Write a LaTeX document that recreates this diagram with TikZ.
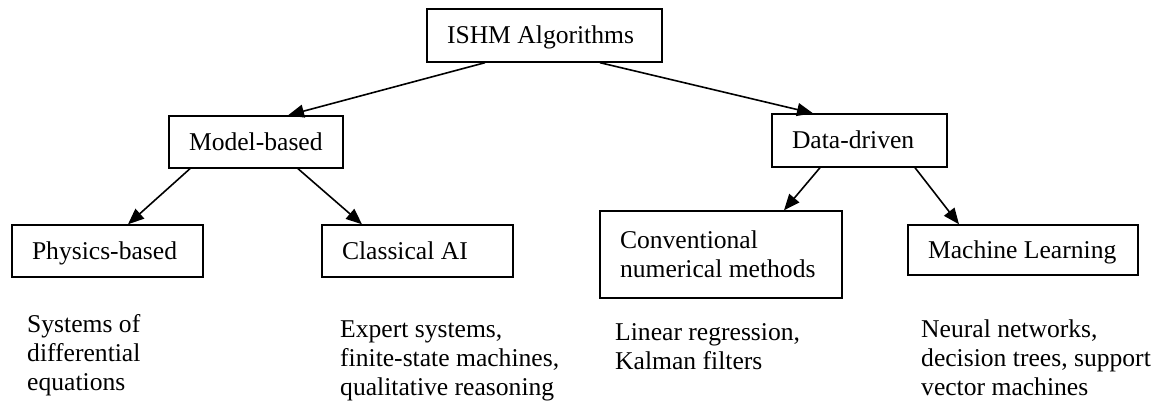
\documentclass[tikz,border=0pt]{standalone}
\usepackage{fontspec}
\setmainfont{Liberation Serif}
\usetikzlibrary{arrows.meta}
\begin{document}
\begin{tikzpicture}[x=1pt,y=-1pt,
  txt/.style={font=\fontsize{25.6}{29}\selectfont},
  box/.style={txt, draw, line width=1.4pt, align=flush left, inner xsep=20pt, inner ysep=0pt},
  one/.style={text height=17pt, text depth=0pt},
  note/.style={txt, anchor=base west, inner sep=0pt, align=left},
  arr/.style={line width=1.6pt, -{Triangle[length=16pt,width=13pt]}}]
\useasboundingbox (0,0) rectangle (1161,403);
\node[box,one,text width=195pt,minimum height=53pt] (ishm) at (544.5,35.5) {ISHM Algorithms};
\node[box,one,text width=134pt,minimum height=52pt] (model) at (256,142) {Model-based};
\node[box,one,text width=135pt,minimum height=53pt] (data) at (859.5,140.5) {Data-driven};
\node[box,one,text width=151pt,minimum height=52pt] (physics) at (107.5,251) {Physics-based};
\node[box,one,text width=151pt,minimum height=52pt] (classical) at (417.5,251) {Classical AI};
\node[box,text width=202pt,minimum height=87pt] (conv) at (721,254.5) {Conventional\\numerical methods};
\node[box,one,text width=190pt,minimum height=50pt] (ml) at (1023,250) {Machine Learning};
% anchor base is the baseline of the last line
\node[note] (sys) at (27,390) {Systems of\\differential\\equations};
\node[note] (expert) at (340,395) {Expert systems,\\finite-state machines,\\qualitative reasoning};
\node[note] (linear) at (615,369) {Linear regression,\\Kalman filters};
\node[note] (neural) at (921,395) {Neural networks,\\decision trees, support\\vector machines};
\draw[arr] ([xshift=-59.5pt]ishm.south) -- ([xshift=32pt]model.north);
\draw[arr] ([xshift=55.5pt]ishm.south) -- ([xshift=-46.5pt]data.north);
\draw[arr] ([xshift=-66pt]model.south) -- ([xshift=20.5pt]physics.north);
\draw[arr] ([xshift=42pt]model.south) -- ([xshift=-55.5pt]classical.north);
\draw[arr] ([xshift=-39.5pt]data.south) -- ([xshift=63pt]conv.north);
\draw[arr] ([xshift=55.5pt]data.south) -- ([xshift=-64pt]ml.north);
\end{tikzpicture}
\end{document}
